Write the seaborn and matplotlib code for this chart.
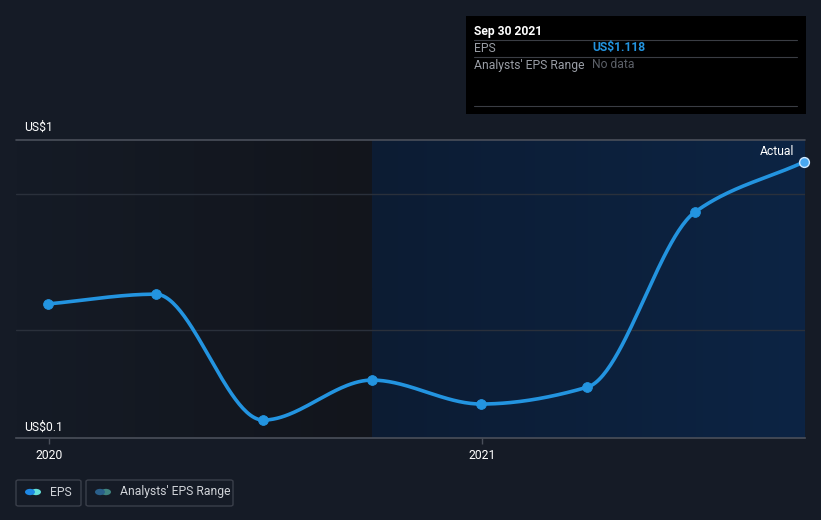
import numpy as np
import pandas as pd
import matplotlib
matplotlib.use('Agg')
import matplotlib.pyplot as plt
import matplotlib.dates as mdates
from matplotlib.patches import Rectangle, FancyBboxPatch, Circle
import seaborn as sns

# data
dates = ['2019-12-31', '2020-03-31', '2020-06-30', '2020-09-30',
         '2020-12-31', '2021-03-31', '2021-06-30', '2021-09-30']
eps = [0.596, 0.632, 0.169, 0.316, 0.228, 0.290, 0.934, 1.118]
tick_dates = ['2020-01-01', '2021-01-01']
tick_labels = ['2020', '2021']
y_labels = ['US$1', 'US$0.1']

BG = '#151b26'
LINE = '#2394e0'
W, H = 821, 520


def monotone(x, y, n=400):
    # monotone cubic (Fritsch-Carlson) like the d3 curve
    x = np.asarray(x, float)
    y = np.asarray(y, float)
    h = np.diff(x)
    d = np.diff(y) / h
    m = np.zeros_like(y)
    m[0], m[-1] = d[0], d[-1]
    for i in range(1, len(y) - 1):
        if d[i - 1] * d[i] <= 0:
            m[i] = 0
        else:
            w1 = 2 * h[i] + h[i - 1]
            w2 = h[i] + 2 * h[i - 1]
            m[i] = (w1 + w2) / (w1 / d[i - 1] + w2 / d[i])
    xs = np.linspace(x[0], x[-1], n)
    idx = np.clip(np.searchsorted(x, xs) - 1, 0, len(h) - 1)
    t = (xs - x[idx]) / h[idx]
    h00 = 2 * t**3 - 3 * t**2 + 1
    h10 = t**3 - 2 * t**2 + t
    h01 = -2 * t**3 + 3 * t**2
    h11 = t**3 - t**2
    ys = h00 * y[idx] + h10 * h[idx] * m[idx] + h01 * y[idx + 1] + h11 * h[idx] * m[idx + 1]
    return xs, ys


df = pd.DataFrame({'date': pd.to_datetime(dates), 'eps': eps})
df['x'] = mdates.date2num(df['date'])
xs, ys = monotone(df['x'], df['eps'])
curve = pd.DataFrame({'x': xs, 'eps': ys})

sns.set_theme(style='dark')
plt.rcParams['font.family'] = ['Roboto', 'DejaVu Sans']

fig = plt.figure(figsize=(W / 100, H / 100), dpi=100, facecolor=BG)
ax = fig.add_axes([16 / W, (H - 438) / H, (805 - 16) / W, (438 - 140) / H])
ax.set_facecolor(BG)

x0 = df['x'].iloc[0] - 32 / 108 * 91
x1 = df['x'].iloc[-1] + 1
xs_split = df['x'].iloc[3]
ymin, ymax = 0.103, 1.199
ax.set_xlim(x0, x1)
ax.set_ylim(ymin, ymax)

# background regions with gradients
grad = np.linspace(0, 1, 256).reshape(1, -1)
left_cmap = matplotlib.colors.LinearSegmentedColormap.from_list('l', [BG, '#12151c'])
right_cmap = matplotlib.colors.LinearSegmentedColormap.from_list('r', ['#0d1c33', '#0c2444'])
ax.imshow(grad, extent=[x0, xs_split, ymin, ymax], aspect='auto', cmap=left_cmap, zorder=0)
ax.imshow(grad, extent=[xs_split, x1, ymin, ymax], aspect='auto', cmap=right_cmap, zorder=0)

for gy in [1.0, 0.5]:
    ax.axhline(gy, color='#2a303b', lw=1, zorder=1)
ax.axhline(ymax, color='#4a4f5a', lw=1.2, zorder=2, clip_on=False)

sns.lineplot(data=curve, x='x', y='eps', ax=ax, color=LINE, lw=2.6, zorder=3)
sns.scatterplot(data=df.iloc[:-1], x='x', y='eps', ax=ax, color=LINE, s=50,
                edgecolor=LINE, zorder=4)
ax.scatter(df['x'].iloc[-1], df['eps'].iloc[-1], s=50, color='#4aa8f0',
           edgecolor='#cfe8ff', lw=1, zorder=5, clip_on=False)
ax.text(df['x'].iloc[-1] - 8, df['eps'].iloc[-1] + 0.014, 'Actual', color='white',
        fontsize=8.7, ha='right', va='bottom', zorder=5)

for s in ['top', 'right', 'left']:
    ax.spines[s].set_visible(False)
ax.spines['bottom'].set_color('#4a4f5a')
ax.spines['bottom'].set_linewidth(1.2)
ax.set_xticks(mdates.date2num(pd.to_datetime(tick_dates)))
ax.set_xticklabels(tick_labels, color='white', fontsize=8.7)
ax.tick_params(axis='x', colors='#4a4f5a', length=4, width=1, pad=4, labelcolor='white')
ax.tick_params(axis='x', bottom=True)
ax.set_yticks([])
ax.set_xlabel('')
ax.set_ylabel('')
ax.grid(False)

# y labels
fig.text(24 / W, 1 - 127 / H, y_labels[0], color='white', fontsize=8.7, va='center')
fig.text(24 / W, 1 - 427 / H, y_labels[1], color='white', fontsize=8.7, va='center')

# tooltip box
fig.patches.append(Rectangle((466 / W, 1 - 114 / H), 340 / W, 98 / H,
                             transform=fig.transFigure, facecolor='black', edgecolor='none'))
for ly in [40, 57, 106]:
    fig.lines.append(plt.Line2D([474 / W, 797 / W], [1 - ly / H] * 2,
                                transform=fig.transFigure, color='#3a3d44', lw=0.8))
fig.text(474 / W, 1 - 31 / H, 'Sep 30 2021', color='white', fontsize=8.7,
         fontweight='bold', va='center')
fig.text(474 / W, 1 - 48 / H, 'EPS', color='#9a9ea6', fontsize=8.7, va='center')
fig.text(592 / W, 1 - 48 / H, 'US$1.118', color='#2394e0', fontsize=8.7,
         fontweight='bold', va='center')
fig.text(474 / W, 1 - 65 / H, "Analysts' EPS Range", color='#9a9ea6', fontsize=8.7, va='center')
fig.text(592 / W, 1 - 65 / H, 'No data', color='#5c6068', fontsize=8.7, va='center')

# legend buttons
for (bx, bw, label, c1, c2) in [(16, 65, 'EPS', '#1e88e5', '#63e0d8'),
                                (86, 147, "Analysts' EPS Range", '#2a5f8a', '#3f8480')]:
    fig.patches.append(FancyBboxPatch((bx / W, 1 - 506 / H), bw / W, 26 / H,
                                      boxstyle='round,pad=0,rounding_size=0.003',
                                      transform=fig.transFigure, facecolor='none',
                                      edgecolor='#3a3f4a', lw=1))
    cy = 1 - 492 / H
    fig.patches.append(Circle(((bx + 20) / W, cy), 5 / W, transform=fig.transFigure,
                              facecolor=c2, edgecolor='none'))
    fig.patches.append(Circle(((bx + 14) / W, cy), 5 / W, transform=fig.transFigure,
                              facecolor=c1, edgecolor='none'))
    fig.text((bx + 34) / W, cy, label, color='#d0d3d8', fontsize=8.7, va='center')

fig.savefig('out.png', dpi=100, facecolor=BG)
